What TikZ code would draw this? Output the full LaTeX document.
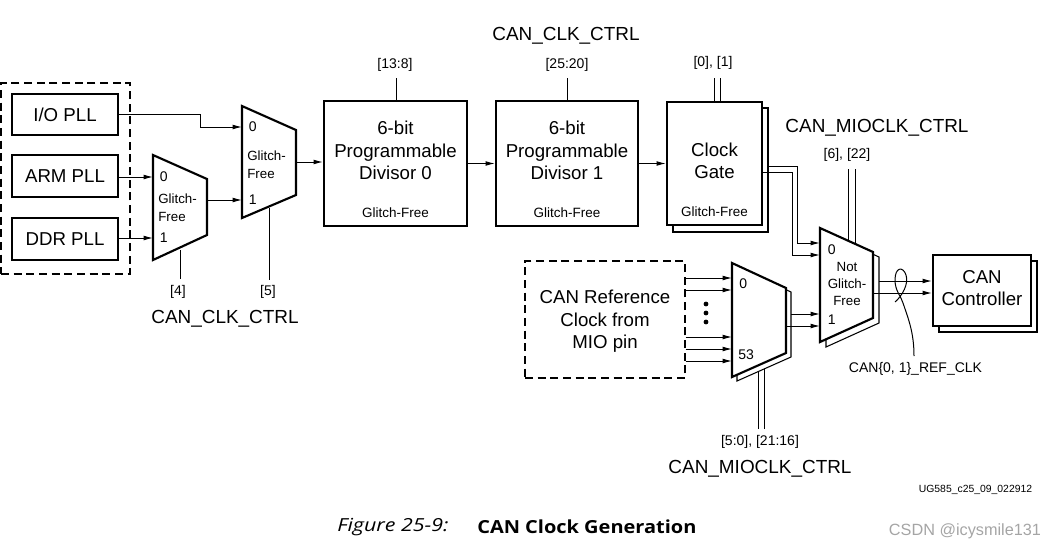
\documentclass[tikz,border=0pt]{standalone}
\usepackage{fontspec}
\setmainfont{Liberation Sans}
\newfontfamily\capfontI[FakeStretch=1.19]{Open Sans}
\newfontfamily\capfontB[FakeStretch=1.11]{Open Sans}
\usetikzlibrary{arrows.meta,calc}
\newlength\pxu
\setlength\pxu{0.75pt}
\definecolor{wmgray}{RGB}{165,165,165}
\begin{document}
\begin{tikzpicture}[x=0.75pt,y=-0.75pt,
 tbox/.style={draw,line width=1.6pt,fill=white,inner sep=0pt},
 sbox/.style={draw,line width=0.8pt,fill=white,inner sep=0pt},
 dbox/.style={draw,line width=1pt,dash pattern=on 6pt off 3.5pt,inner sep=0pt},
 mux/.style={draw,line width=1.6pt,fill=white,line join=miter},
 muxsh/.style={draw,line width=0.8pt,fill=white},
 wire/.style={line width=0.75pt},
 arr/.style={wire,-{Latex[length=7pt,width=3.6pt]}},
 big/.style={font=\fontsize{14}{16.9}\selectfont,inner sep=0pt,align=center},
 small/.style={font=\fontsize{10.5}{12}\selectfont,inner sep=0pt},
 gf/.style={font=\fontsize{10.1}{12}\selectfont,inner sep=0pt},
 muxt/.style={font=\fontsize{10}{13.5}\selectfont,inner sep=0pt},
 reg/.style={font=\fontsize{14.2}{16}\selectfont,inner sep=0pt},
]
\useasboundingbox (0,0) rectangle (1056,550);

% ---------- PLL group ----------
\node[dbox,minimum width=129\pxu,minimum height=191\pxu] (pllgrp) at (65.5,178.5) {};
\node[tbox,big,minimum width=106\pxu,minimum height=41\pxu] (io) at (65,114.5) {I/O PLL};
\node[tbox,big,minimum width=106\pxu,minimum height=42\pxu] (arm) at (65,176) {ARM PLL};
\node[tbox,big,minimum width=106\pxu,minimum height=42\pxu] (ddr) at (65,239) {DDR PLL};

% ---------- Mux 1 ----------
\coordinate (m1i0) at (153,177);
\coordinate (m1i1) at (153,238);
\coordinate (m1o) at (207,200);
\coordinate (m1s) at (180,250);
\coordinate (m1se) at (180,279);
\draw[wire] (m1s) -- (m1se);
\draw[mux] (153,155) -- (207,179) -- (207,235) -- (153,260) -- cycle;
\node[small,anchor=west] (m1l0) at (159.5,177) {0};
\node[small,anchor=west] (m1l1) at (159.5,238) {1};
\node[muxt,anchor=west,align=left] (m1t) at (158,208) {Glitch-\\Free};
\node[small] (s4) at (178,292) {[4]};

% ---------- Mux 2 ----------
\coordinate (m2i0) at (242,127);
\coordinate (m2i1) at (242,200);
\coordinate (m2o) at (296,162);
\coordinate (m2s) at (269,208);
\coordinate (m2se) at (269,280);
\draw[wire] (m2s) -- (m2se);
\draw[mux] (242,106) -- (296,130) -- (296,195) -- (242,218) -- cycle;
\node[small,anchor=west] (m2l0) at (248.5,127) {0};
\node[small,anchor=west] (m2l1) at (248.5,200) {1};
\node[muxt,anchor=west,align=left] (m2t) at (247,165) {Glitch-\\Free};
\node[small] (s5) at (268,292) {[5]};
\node[reg] (cc1) at (225,319) {CAN\_CLK\_CTRL};

\draw[arr] (arm.east |- m1i0) -- (m1i0);
\draw[arr] (ddr.east |- m1i1) -- (m1i1);
\coordinate (iob) at (200,127);
\draw[arr] (io.east) -- (iob |- io.east) -- (iob) -- (m2i0);
\draw[arr] (m1o) -- (m2i1);

% ---------- Divisors ----------
\node[tbox,minimum width=143\pxu,minimum height=125\pxu] (div0) at (395.5,163.5) {};
\node[big] (div0t) at (395.5,150.5) {6-bit\\Programmable\\Divisor 0};
\node[gf] (div0g) at (395.5,213) {Glitch-Free};
\node[small] (b138) at (395,65) {[13:8]};
\coordinate (b138e) at (396,78);
\draw[wire] (b138e) -- (b138e |- div0.north);

\node[tbox,minimum width=142\pxu,minimum height=125\pxu] (div1) at (567,163.5) {};
\node[big] (div1t) at (567,150.5) {6-bit\\Programmable\\Divisor 1};
\node[gf] (div1g) at (567,213) {Glitch-Free};
\node[small] (b2520) at (567,65) {[25:20]};
\coordinate (b2520e) at (567,78);
\draw[wire] (b2520e) -- (b2520e |- div1.north);
\node[reg] (cc2) at (566,36) {CAN\_CLK\_CTRL};

% ---------- Clock gate ----------
\node[sbox,minimum width=95\pxu,minimum height=124\pxu] (cgs) at (720.5,170) {};
\node[tbox,minimum width=95\pxu,minimum height=123\pxu] (cg) at (714.5,163.5) {};
\node[big,font=\fontsize{14}{16.5}\selectfont] (cgt) at (714.5,160.5) {Clock\\Gate};
\node[gf] (cgg) at (714.5,212) {Glitch-Free};
\node[small] (b01) at (713,63) {[0], [1]};
\coordinate (b01a) at (714,78);
\coordinate (b01b) at (720,78);
\draw[wire] (b01a) -- (b01a |- cg.north);
\draw[wire] (b01b) -- (b01b |- cg.north);

\draw[arr] (m2o) -- (m2o -| div0.west);
\draw[arr] (div0.east) -- (div1.west);
\draw[arr] (div1.east) -- (cg.west);

% ---------- Mux 3 select ----------
\coordinate (m3sa) at (848,169);
\coordinate (m3sb) at (855,169);
\coordinate (m3sae) at (848,250);
\coordinate (m3sbe) at (855,250);
\draw[wire] (m3sa) -- (m3sae);
\draw[wire] (m3sb) -- (m3sbe);
\node[small] (b622) at (847,155) {[6], [22]};
\node[reg] (mc1) at (877,128) {CAN\_MIOCLK\_CTRL};

% ---------- Mux 4 select ----------
\coordinate (m4sa) at (758,429);
\coordinate (m4sb) at (764,429);
\coordinate (m4sae) at (758,360);
\coordinate (m4sbe) at (764,360);
\draw[wire] (m4sa) -- (m4sae);
\draw[wire] (m4sb) -- (m4sbe);
\node[small] (b516) at (760,442) {[5:0], [21:16]};
\node[reg] (mc2) at (760,469) {CAN\_MIOCLK\_CTRL};

% ---------- Mux 3 (Not Glitch-Free) ----------
\coordinate (m3i0a) at (820,243);
\coordinate (m3i0b) at (820,255);
\coordinate (m3i1a) at (820,314);
\coordinate (m3i1b) at (820,326);
\coordinate (m3oa) at (879,281);
\coordinate (m3ob) at (873,293);
\draw[muxsh] (826,233) -- (879,257) -- (879,323) -- (826,347) -- cycle;
\draw[mux] (820,228) -- (873,252) -- (873,318) -- (820,342) -- cycle;
\node[small,anchor=west] (m3l0) at (827.5,250) {0};
\node[small,anchor=west] (m3l1) at (827.5,320) {1};
\node[muxt,align=center,font=\fontsize{10}{12.4}\selectfont] (m3t) at (847,284) {Not\\Glitch-\\Free};

% ---------- Mux 4 (MIO select) ----------
\coordinate (m4oa) at (791,314);
\coordinate (m4ob) at (786,326);
\draw[muxsh] (737,267) -- (791,292) -- (791,357) -- (737,381) -- cycle;
\draw[mux] (732,263) -- (786,288) -- (786,353) -- (732,377) -- cycle;
\node[small,anchor=west] (m4l0) at (739,284) {0};
\node[small,anchor=west] (m4l53) at (738,355) {53};

% ---------- CAN reference (MIO) ----------
\node[dbox,minimum width=160\pxu,minimum height=117\pxu] (ref) at (605,319.5) {};
\node[big] (reft) at (605,321.5) {CAN Reference\\Clock from\\MIO pin};
\foreach \yy/\nm in {278/a,290/b,337/c,349/d,361/e}{
  \coordinate (m4i\nm) at (732,\yy);
  \draw[arr] (ref.east |- m4i\nm) -- (m4i\nm);
}
\fill (706,304) circle (2.4);
\fill (706,313) circle (2.4);
\fill (706,322) circle (2.4);

% ---------- wires into mux 3 ----------
\coordinate (cgoa) at (768,166);
\coordinate (cgob) at (762,172);
\coordinate (bA) at (797,166);
\coordinate (bB) at (792,172);
\draw[arr] (cgoa) -- (bA) -- (bA |- m3i0a) -- (m3i0a);
\draw[arr] (cgob) -- (bB) -- (bB |- m3i0b) -- (m3i0b);
\draw[arr] (m4oa) -- (m3i1a);
\draw[arr] (m4ob) -- (m3i1b);

% ---------- CAN controller ----------
\node[sbox,minimum width=98\pxu,minimum height=71\pxu] (cans) at (988,296.5) {};
\node[tbox,minimum width=98\pxu,minimum height=71\pxu] (can) at (982,290.5) {};
\node[big,font=\fontsize{14}{16.5}\selectfont] (cant) at (982,288.5) {CAN\\Controller};
\draw[arr] (m3oa) -- (can.west |- m3oa);
\draw[arr] (m3ob) -- (can.west |- m3ob);

% loop annotation
\node[small] (refclk) at (915.5,369) {CAN\{0, 1\}\_REF\_CLK};
\coordinate (loopb) at (895,302);
\coordinate (refclkt) at (914,356);
\draw[wire] (loopb) .. controls (902,296) and (909,284) .. (906,275)
  .. controls (903,266) and (895,267) .. (895,280)
  .. controls (895,291) and (901,296) .. (903,303)
  .. controls (908,318) and (914,332) .. (refclkt);

% ---------- captions ----------
\node[font=\fontsize{7.8}{9}\selectfont,inner sep=0pt] (ug) at (975.5,490) {UG585\_c25\_09\_022912};
\node[font=\capfontI\itshape\fontsize{13.5}{16}\selectfont,anchor=west,inner sep=0pt] (figno) at (337,527) {Figure 25-9:};
\node[font=\capfontB\bfseries\fontsize{13.5}{16}\selectfont,anchor=west,inner sep=0pt] (figt) at (477,527) {CAN Clock Generation};
\node[font=\fontsize{12.2}{14}\selectfont,text=wmgray,inner sep=0pt] (wm) at (965,531) {CSDN @icysmile131};
\end{tikzpicture}
\end{document}
